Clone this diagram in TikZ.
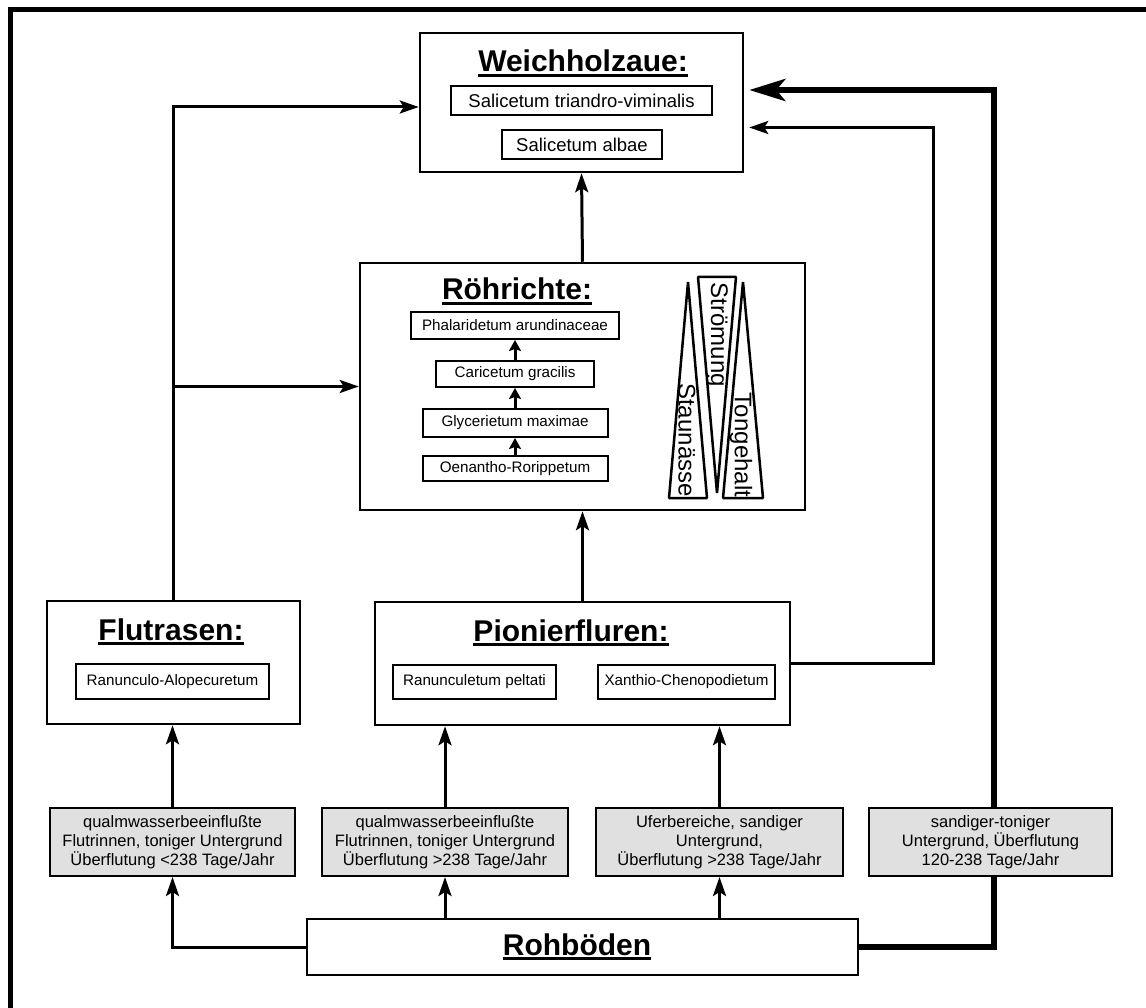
\documentclass[tikz,border=0pt]{standalone}
\usepackage{fontspec}
\setmainfont{Liberation Sans}
\usetikzlibrary{arrows.meta,calc}
\definecolor{boxgrey}{RGB}{224,224,224}
\newcommand\myul[1]{\setbox0\hbox{#1}\rlap{\vrule width\wd0 height -2.2pt depth 4.6pt}\box0}
\pgfdeclarelayer{bg}
\pgfdeclarelayer{paper}
\pgfsetlayers{paper,bg,main}
\tikzset{
  bigbox/.style={draw, line width=2.5pt, inner sep=0pt, fill=white},
  subbox/.style={draw, line width=2.2pt, inner sep=0pt, fill=white, font=\fontsize{18.5}{22}\selectfont},
  rsub/.style={draw, line width=2pt, inner sep=0pt, fill=white, font=\fontsize{15.2}{18}\selectfont},
  greybox/.style={draw, line width=2pt, fill=boxgrey, align=center, inner sep=0pt, font=\fontsize{16.5}{19}\selectfont},
  titletext/.style={font=\bfseries\fontsize{30}{36}\selectfont, anchor=base, inner sep=0pt},
  tritext/.style={rotate=-90, inner sep=0pt, font=\fontsize{24}{28}\selectfont},
  tri/.style={draw, line width=2.5pt, line join=bevel},
  conn/.style={line width=3pt, line join=miter, -{Stealth[length=19pt,width=13pt,inset=4pt]}},
  thickconn/.style={line width=6pt, line join=miter, -{Stealth[length=36pt,width=22pt,inset=9pt]}},
  smallarrow/.style={line width=3pt, -{Stealth[length=11pt,width=12pt,inset=2pt]}},
}
\begin{document}
\begin{tikzpicture}[x=1pt,y=-1pt]
\useasboundingbox (0,0) rectangle (1146,1008);
\begin{pgfonlayer}{paper}
\fill[white] (0,0) rectangle (1146,1008);
\end{pgfonlayer}
\draw[line width=5pt, line join=miter] (1146,10) -- (10,10) -- (10,1008);

% Weichholzaue
\node[bigbox, minimum width=323pt, minimum height=139pt] (wh) at (581.5,102.5) {};
\node[titletext] (whT) at (583,72) {\myul{Weichholzaue:}};
\node[subbox, minimum width=261pt, minimum height=29pt] (wh1) at (581.5,100.5) {Salicetum triandro-viminalis};
\node[subbox, minimum width=160pt, minimum height=29pt] (wh2) at (582,144.5) {Salicetum albae};

% Roehrichte
\node[bigbox, minimum width=445pt, minimum height=247pt] (roe) at (582.5,386.5) {};
\node[titletext] (roeT) at (517,300) {\myul{Röhrichte:}};
\node[rsub, minimum width=208pt, minimum height=27pt] (r4) at (515,325.5) {Phalaridetum arundinaceae};
\node[rsub, minimum width=158pt, minimum height=26pt] (r3) at (515,374) {Caricetum gracilis};
\node[rsub, minimum width=185pt, minimum height=28pt] (r2) at (515,423) {Glycerietum maximae};
\node[rsub, minimum width=185pt, minimum height=25pt] (r1) at (515,468.5) {Oenantho-Rorippetum};
\draw[smallarrow] (r1.north) -- (r2.south);
\draw[smallarrow] (r2.north) -- (r3.south);
\draw[smallarrow] (r3.north) -- (r4.south);

\draw[tri] (688,282) -- (707,498) -- (669,498) -- cycle;
\draw[tri] (698,277) -- (736,277) -- (717,493) -- cycle;
\draw[tri] (743,282) -- (763,498) -- (723,498) -- cycle;
\node[tritext] (tS) at (687,440) {Staunässe};
\node[tritext] (tSt) at (717,335) {Strömung};
\node[tritext] (tT) at (741,445) {Tongehalt};

% Flutrasen
\node[bigbox, minimum width=253pt, minimum height=123pt] (flu) at (173.5,662.5) {};
\node[titletext] (fluT) at (171,640) {\myul{Flutrasen:}};
\node[rsub, minimum width=193pt, minimum height=35pt] (flu1) at (172.5,681.5) {Ranunculo-Alopecuretum};

% Pionierfluren
\node[bigbox, minimum width=415pt, minimum height=123pt] (pio) at (582.5,663.5) {};
\node[titletext] (pioT) at (571,641) {\myul{Pionierfluren:}};
\node[rsub, minimum width=163pt, minimum height=34pt] (pio1) at (474.5,682) {Ranunculetum peltati};
\node[rsub, minimum width=177pt, minimum height=34pt] (pio2) at (686.5,682) {Xanthio-Chenopodietum};

% grey boxes
\node[greybox, minimum width=245pt, minimum height=68pt] (g1) at (172.5,842) {qualmwasserbeeinflußte\\Flutrinnen, toniger Untergrund\\Überflutung <238 Tage/Jahr};
\node[greybox, minimum width=246pt, minimum height=68pt] (g2) at (445,842) {qualmwasserbeeinflußte\\Flutrinnen, toniger Untergrund\\Überflutung >238 Tage/Jahr};
\node[greybox, minimum width=247pt, minimum height=68pt] (g3) at (719.5,842) {Uferbereiche, sandiger\\Untergrund,\\Überflutung >238 Tage/Jahr};
\node[greybox, minimum width=243pt, minimum height=68pt] (g4) at (990.5,842) {sandiger-toniger\\Untergrund, Überflutung\\120-238 Tage/Jahr};

% Rohboeden
\node[bigbox, minimum width=551pt, minimum height=56pt] (roh) at (582.5,947) {};
\node[titletext] (rohT) at (577,955) {\myul{Rohböden}};

\coordinate (whL) at ($(wh.west)+(0,4.5)$);
\coordinate (whR1) at ($(wh.east)+(5,-12.5)$);
\coordinate (whR2) at ($(wh.east)+(5,25)$);
\coordinate (tkx) at (993.5,0);
\coordinate (tnx) at (933,0);
\coordinate (brc) at (flu.north |- roe.west);

\begin{pgfonlayer}{bg}
\draw[conn] (roh.west) -| (g1.south);
\draw[conn] (roh.north -| g2.south) -- (g2.south);
\draw[conn] (roh.north -| g3.south) -- (g3.south);
\draw[conn] (g1.north) -- (g1.north |- flu.south);
\draw[conn] (g2.north) -- (g2.north |- pio.south);
\draw[conn] (g3.north) -- (g3.north |- pio.south);
\draw[conn] (pio.north) -- (roe.south);
\draw[conn] (roe.north) -- (wh.south);
\draw[conn] (flu.north) |- (whL);
\draw[conn] (brc) -- (roe.west);
\draw[thickconn] (roh.east) -| (tkx |- whR1) -- (whR1);
\draw[conn] (pio.east) -| (tnx |- whR2) -- (whR2);
\end{pgfonlayer}
\end{tikzpicture}
\end{document}
